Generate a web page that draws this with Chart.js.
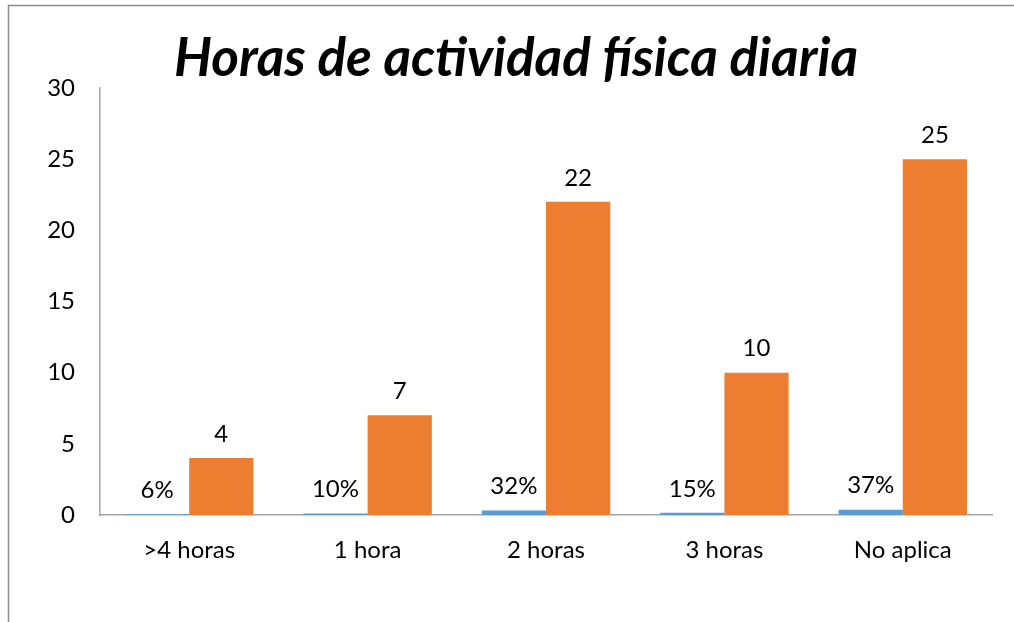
<!DOCTYPE html>
<html>
<head>
<meta charset="utf-8">
<script src="https://cdn.jsdelivr.net/npm/chart.js@4/dist/chart.umd.min.js"></script>
<style>
  body { margin: 0; background: #fff; }
  #wrap { width: 1014px; height: 622px; }
</style>
</head>
<body>
<div id="wrap"><canvas id="my-chart" width="1014" height="622"></canvas></div>
<script>
let categories = ['>4 horas', '1 hora', '2 horas', '3 horas', 'No aplica'];
let porcentajes = [0.06, 0.10, 0.32, 0.15, 0.37];
let personas = [4, 7, 22, 10, 25];
let yTicks = [0, 5, 10, 15, 20, 25, 30];

let fontName = 'Lato, "Open Sans", sans-serif';

// gray frame around the chart (top and left edges)
let framePlugin = {
    id: 'frame',
    beforeDraw(chart) {
        let ctx = chart.ctx;
        ctx.save();
        ctx.strokeStyle = '#8c8c8c';
        ctx.lineWidth = 1.5;
        ctx.beginPath();
        ctx.moveTo(8.5, 622);
        ctx.lineTo(8.5, 5.5);
        ctx.lineTo(1014, 5.5);
        ctx.stroke();
        ctx.restore();
    }
};

// value labels above the bars
let labelPlugin = {
    id: 'barLabels',
    afterDatasetsDraw(chart) {
        let ctx = chart.ctx;
        ctx.save();
        ctx.font = '24px ' + fontName;
        ctx.fillStyle = '#000';
        ctx.textAlign = 'center';
        ctx.textBaseline = 'bottom';
        chart.data.datasets.forEach(function (ds, i) {
            let meta = chart.getDatasetMeta(i);
            meta.data.forEach(function (bar, j) {
                let v = ds.data[j];
                let txt = i === 0 ? Math.round(v * 100) + '%' : String(v);
                ctx.fillText(txt, bar.x, bar.y - 12);
            });
        });
        ctx.restore();
    }
};

let ctx = document.getElementById('my-chart').getContext('2d');
let chart = new Chart(ctx, {
    type: 'bar',
    data: {
        labels: categories,
        datasets: [{
            label: 'Porcentaje',
            data: porcentajes,
            backgroundColor: '#5B9BD5'
        }, {
            label: 'Personas',
            data: personas,
            backgroundColor: '#ED7D31'
        }]
    },
    options: {
        responsive: false,
        animation: false,
        categoryPercentage: 0.72,
        barPercentage: 1,
        layout: { padding: { left: 40, right: 22, top: 10, bottom: 0 } },
        plugins: {
            legend: { display: false },
            tooltip: { enabled: false },
            title: {
                display: true,
                text: 'Horas de actividad física diaria',
                color: '#000',
                font: { family: fontName, size: 53, weight: 'bold', style: 'italic', lineHeight: 1.0 },
                padding: { top: 22, bottom: 3 }
            }
        },
        scales: {
            x: {
                grid: { display: false, drawTicks: false },
                border: { color: '#a6a6a6', width: 1.5 },
                ticks: { color: '#000', padding: 21, font: { family: fontName, size: 24 } },
                afterFit(scale) { scale.height = 107; }
            },
            y: {
                min: 0,
                max: 30,
                afterBuildTicks(scale) { scale.ticks = yTicks.map(v => ({ value: v })); },
                grid: { display: false, drawTicks: false },
                border: { color: '#a6a6a6', width: 1.5 },
                ticks: { color: '#000', padding: 25, font: { family: fontName, size: 24 } },
                afterFit(scale) { scale.width = 60; }
            }
        }
    },
    plugins: [framePlugin, labelPlugin]
});
</script>
</body>
</html>
